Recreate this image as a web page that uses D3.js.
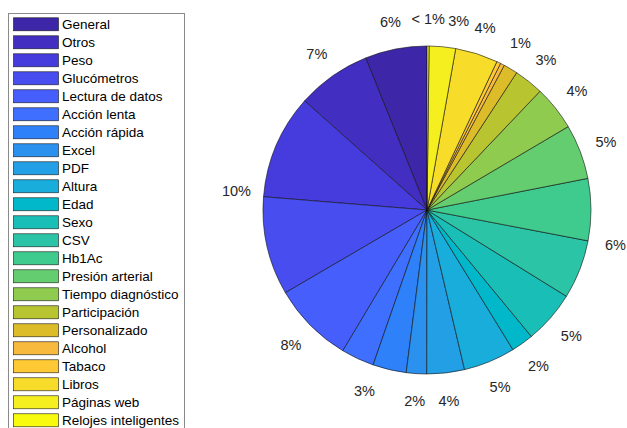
<!DOCTYPE html>
<html>
<head>
<meta charset="utf-8">
<script src="https://cdn.jsdelivr.net/npm/d3@7"></script>
<style>
    body { margin: 0; background: #fff; }
    #chart { width: 627px; height: 428px; }
    text { font-family: Arial, "Liberation Sans", sans-serif; }
</style>
</head>
<body>
<div id="chart"></div>
<script>
// categories, in the order MATLAB draws them (counterclockwise from the top)
const categories = ["General", "Otros", "Peso", "Glucómetros", "Lectura de datos", "Acción lenta",
    "Acción rápida", "Excel", "PDF", "Altura", "Edad", "Sexo", "CSV", "Hb1Ac", "Presión arterial",
    "Tiempo diagnóstico", "Participación", "Personalizado", "Alcohol", "Tabaco", "Libros",
    "Páginas web", "Relojes inteligentes"];

// share of each slice (percent)
const shares = [6.1, 7.3, 10.3, 9.7, 8.0, 3.25, 3.3, 2.0, 3.7, 5.1, 2.2, 5.2, 5.8, 6.1, 5.4,
    4.4, 2.9, 1.4, 0.4, 0.4, 4.2, 2.6, 0.2];

// parula colours for 23 slices
const sliceColors = ["#3e26a8", "#422ec0", "#463cde", "#484df0", "#465efb", "#3e6fff", "#2f81fa",
    "#2b91ef", "#23a0e5", "#18addb", "#01b8ca", "#19bfb6", "#2cc4a7", "#3fca8e", "#64cd6f",
    "#8fcb4e", "#b9c431", "#dcbd29", "#f8ba3d", "#fec934", "#f7dc2a", "#f6ef20", "#f9fb0e"];

// percent labels as they appear, and which slices each one sits over
const labelText = ["6%", "7%", "10%", "8%", "3%", "2%", "4%", "5%", "2%", "5%", "6%", "5%",
    "4%", "3%", "1%", "4%", "3%", "< 1%"];
const labelSlices = [[0], [1], [2, 3], [4], [5, 6], [7], [8], [9], [10], [11], [12, 13], [14],
    [15], [16], [17, 18, 19], [20], [21], [22]];


class PieChart {

    constructor(_parentElement) {
        this.parentElement = _parentElement;
        this.initVis();
    }

    initVis() {
        let vis = this;

        vis.width = 627;
        vis.height = 428;

        vis.svg = d3.select("#" + vis.parentElement).append("svg")
            .attr("width", vis.width)
            .attr("height", vis.height);

        vis.cx = 427;
        vis.cy = 210;
        vis.radius = 164;

        vis.drawLegend();
        vis.drawPie();
    }

    drawLegend() {
        let vis = this;

        let legend = vis.svg.append("g").attr("class", "legend");

        legend.append("rect")
            .attr("x", 8.5)
            .attr("y", 13.5)
            .attr("width", 176)
            .attr("height", 425)
            .attr("fill", "#fff")
            .attr("stroke", "#8a8a8a")
            .attr("stroke-width", 1);

        // row position from a point scale
        let rowY = d3.scalePoint()
            .domain(categories)
            .range([24.3, 24.3 + 18 * (categories.length - 1)]);

        let rows = legend.selectAll(".row")
            .data(categories)
            .enter()
            .append("g")
            .attr("class", "row")
            .attr("transform", d => `translate(0, ${rowY(d)})`);

        rows.append("rect")
            .attr("x", 13.5)
            .attr("y", -6.5)
            .attr("width", 45)
            .attr("height", 13)
            .attr("fill", (d, i) => sliceColors[i])
            .attr("stroke", "#1a1a1a")
            .attr("stroke-width", 0.6);

        rows.append("text")
            .attr("x", 62)
            .attr("dy", "0.36em")
            .attr("font-size", "13.5px")
            .attr("fill", "#000")
            .text(d => d);
    }

    drawPie() {
        let vis = this;

        // MATLAB starts at the top and runs counterclockwise
        let pie = d3.pie()
            .sort(null)
            .startAngle(0)
            .endAngle(-2 * Math.PI)
            .value(d => d);

        vis.arcs = pie(shares);

        let arc = d3.arc()
            .innerRadius(0)
            .outerRadius(vis.radius);

        let g = vis.svg.append("g")
            .attr("transform", `translate(${vis.cx}, ${vis.cy})`);

        g.selectAll(".slice")
            .data(vis.arcs)
            .enter()
            .append("path")
            .attr("class", "slice")
            .attr("d", arc)
            .attr("fill", (d, i) => sliceColors[i])
            .attr("stroke", "#111")
            .attr("stroke-width", 0.6)
            .attr("stroke-linejoin", "round");

        // label angle = middle of the slices it belongs to
        let labels = labelText.map((t, i) => {
            let angs = [];
            labelSlices[i].forEach(k => {
                angs.push(vis.arcs[k].startAngle, vis.arcs[k].endAngle);
            });
            let mid = (d3.min(angs) + d3.max(angs)) / 2;
            // clockwise angle from the top, 0..2pi
            let a = ((mid % (2 * Math.PI)) + 2 * Math.PI) % (2 * Math.PI);
            return {text: t, angle: a, order: i};
        });

        let labelR = vis.radius * 1.168;

        let texts = g.selectAll(".pct")
            .data(labels)
            .enter()
            .append("text")
            .attr("class", "pct")
            .attr("text-anchor", "middle")
            .attr("dy", "0.36em")
            .attr("font-size", "14.5px")
            .attr("fill", "#262626")
            .text(d => d.text);

        texts.each(function (d) {
            d.w = this.getComputedTextLength();
        });

        // clockwise from the top, push a label along if it hits the previous one
        let ordered = labels.slice().sort((a, b) => b.order - a.order);
        let placed = [];
        ordered.forEach((d, j) => {
            let a = d.angle;
            if (j > 0 && a < placed[j - 1].angle - Math.PI) a += 2 * Math.PI;
            let pos = () => ({x: labelR * Math.sin(a), y: -labelR * Math.cos(a)});
            let p = pos();
            let hits = q => Math.abs(p.x - q.x) < (d.w + q.w) / 2 + 3 && Math.abs(p.y - q.y) < 15;
            let guard = 0;
            while (j > 0 && hits(placed[j - 1]) && guard < 200) {
                a += 0.004;
                p = pos();
                guard++;
            }
            d.x = p.x;
            d.y = p.y;
            placed.push({x: p.x, y: p.y, w: d.w, angle: a});
        });

        texts.attr("x", d => d.x)
            .attr("y", d => d.y);
    }
}

new PieChart("chart");
</script>
</body>
</html>
